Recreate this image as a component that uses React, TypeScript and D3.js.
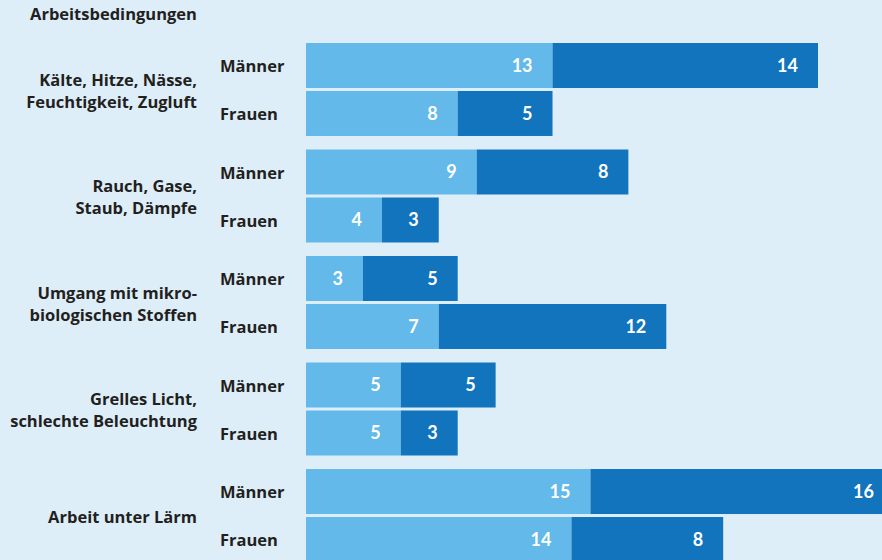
import React from 'react';
import * as d3 from 'd3';

const categories = [
  ['Kälte, Hitze, Nässe,', 'Feuchtigkeit, Zugluft'],
  ['Rauch, Gase,', 'Staub, Dämpfe'],
  ['Umgang mit mikro-', 'biologischen Stoffen'],
  ['Grelles Licht,', 'schlechte Beleuchtung'],
  ['Arbeit unter Lärm'],
];
const groups = ['Männer', 'Frauen'];
// light segment per category: [Männer, Frauen]
const lightValues = [[13, 8], [9, 4], [3, 7], [5, 5], [15, 14]];
// dark segment per category: [Männer, Frauen]
const darkValues = [[14, 5], [8, 3], [5, 12], [5, 3], [16, 8]];

const width = 882;
const height = 560;
const font = '"Open Sans", Lato, sans-serif';
const numFont = 'Lato, "Open Sans", sans-serif';
const textColor = '#231f20';
const lightBlue = '#63b9e9';
const darkBlue = '#1174bd';

const App = () => {
  const x = d3.scaleLinear().domain([0, 27]).range([306, 818]);

  const yCat = d3.scaleBand<number>()
    .domain(d3.range(categories.length))
    .range([43, 562])
    .paddingInner(0.127)
    .paddingOuter(0)
    .align(0);

  const yGroup = d3.scaleBand<string>()
    .domain(groups)
    .range([0, yCat.bandwidth()])
    .paddingInner(0.0625);

  const labelStyle = { fontFamily: font, fontWeight: 700, fontSize: 16.5, fill: textColor };

  return (
    <div style={{ position: 'fixed', left: 0, top: 0, width, height, overflow: 'hidden' }}>
      <svg width={width} height={height} style={{ display: 'block', background: '#ddeef9' }}>
        <text x={30} y={20} style={labelStyle}>
          Arbeitsbedingungen
        </text>
        {categories.map((lines, i) => {
          const cy = yCat(i)! + yCat.bandwidth() / 2;
          const lh = 22;
          const first = cy - ((lines.length - 1) * lh) / 2;
          return (
            <g key={i}>
              {lines.map((line, j) => (
                <text key={j} x={197} y={first + j * lh} dy="0.44em" textAnchor="end" style={labelStyle}>
                  {line}
                </text>
              ))}
              {groups.map((g, k) => {
                const by = yCat(i)! + yGroup(g)!;
                const bh = yGroup.bandwidth();
                const a = lightValues[i][k];
                const b = darkValues[i][k];
                return (
                  <g key={g}>
                    <text x={220} y={by + bh / 2} dy="0.42em" style={labelStyle}>
                      {g}
                    </text>
                    <rect x={x(0)} y={by} width={x(a) - x(0)} height={bh} fill={lightBlue} />
                    <rect x={x(a)} y={by} width={x(a + b) - x(a)} height={bh} fill={darkBlue} />
                    <text
                      x={x(a) - 20}
                      y={by + bh / 2}
                      dy="0.36em"
                      textAnchor="end"
                      fontFamily={numFont}
                      fontWeight={700}
                      fontSize={18}
                      fill="#fff"
                    >
                      {a}
                    </text>
                    <text
                      x={x(a + b) - 20}
                      y={by + bh / 2}
                      dy="0.36em"
                      textAnchor="end"
                      fontFamily={numFont}
                      fontWeight={700}
                      fontSize={18}
                      fill="#fff"
                    >
                      {b}
                    </text>
                  </g>
                );
              })}
            </g>
          );
        })}
      </svg>
    </div>
  );
};

export default App;
